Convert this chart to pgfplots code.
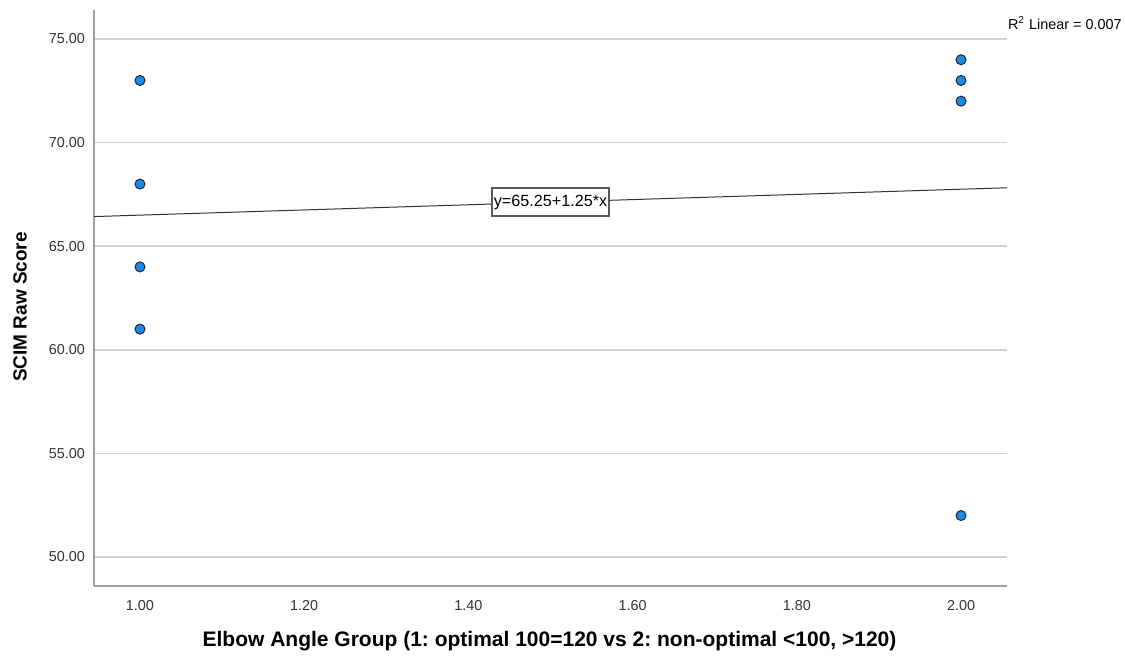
\documentclass[border=0pt]{standalone}
\usepackage{fontspec}
\setmainfont{Liberation Sans}
\usepackage{pgfplots}
\pgfplotsset{compat=1.18}
\definecolor{ptfill}{HTML}{1E88E5}
\definecolor{ptedge}{HTML}{1A2A3A}
\definecolor{gridc}{HTML}{D2D2D2}
\definecolor{axc}{HTML}{A0A0A0}
\frenchspacing
\begin{document}
\begin{tikzpicture}
\useasboundingbox (0,0) rectangle (562.5pt,327.5pt);
\begin{axis}[
  at={(47pt,34.5pt)}, anchor=south west,
  scale only axis, width=456.5pt, height=288pt,
  xmin=0.944, xmax=2.056, ymin=48.6, ymax=76.4,
  axis x line*=bottom, axis y line*=left,
  axis line style={axc, line width=0.9pt, -},
  xtick={1,1.2,1.4,1.6,1.8,2}, ytick={50,55,60,65,70,75},
  major tick length=0pt,
  ymajorgrids, grid style={gridc, line width=0.8pt},
  /pgf/number format/.cd, fixed, fixed zerofill, precision=2, assume math mode=true,
  /pgfplots/.cd,
  ticklabel style={font=\fontsize{7.2pt}{8pt}\selectfont, text=black!80},
  xticklabel style={yshift=-3.5pt},
  yticklabel style={xshift=-1pt},
  clip=false,
]
\addplot[black!80, line width=0.5pt] coordinates {(0.944,66.43) (2.056,67.82)};
\addplot[only marks, mark=*, mark size=2.5pt, mark options={fill=ptfill, draw=ptedge, line width=0.5pt}] coordinates {
(1,73) (1,68) (1,64) (1,61) (2,74) (2,73) (2,72) (2,52)};
\node[draw=black!65, fill=white, line width=0.8pt, inner xsep=1pt, inner ysep=0pt, minimum height=14pt, font=\fontsize{8.1pt}{9pt}\selectfont] at (axis cs:1.5,67.125) {y=65.25+1.25*x};
\end{axis}
\node[anchor=west, font=\fontsize{7.2pt}{8pt}\selectfont] at (500.5pt,316pt) {R\textsuperscript{2} Linear = 0.007};
\node[font=\bfseries\fontsize{10.5pt}{12pt}\selectfont] at (274.75pt,7pt) {Elbow Angle Group (1: optimal 100=120 vs 2: non-optimal <100, >120)};
\node[rotate=90, font=\bfseries\fontsize{9.5pt}{11pt}\selectfont] at (10pt,174pt) {SCIM Raw Score};
\end{tikzpicture}
\end{document}
